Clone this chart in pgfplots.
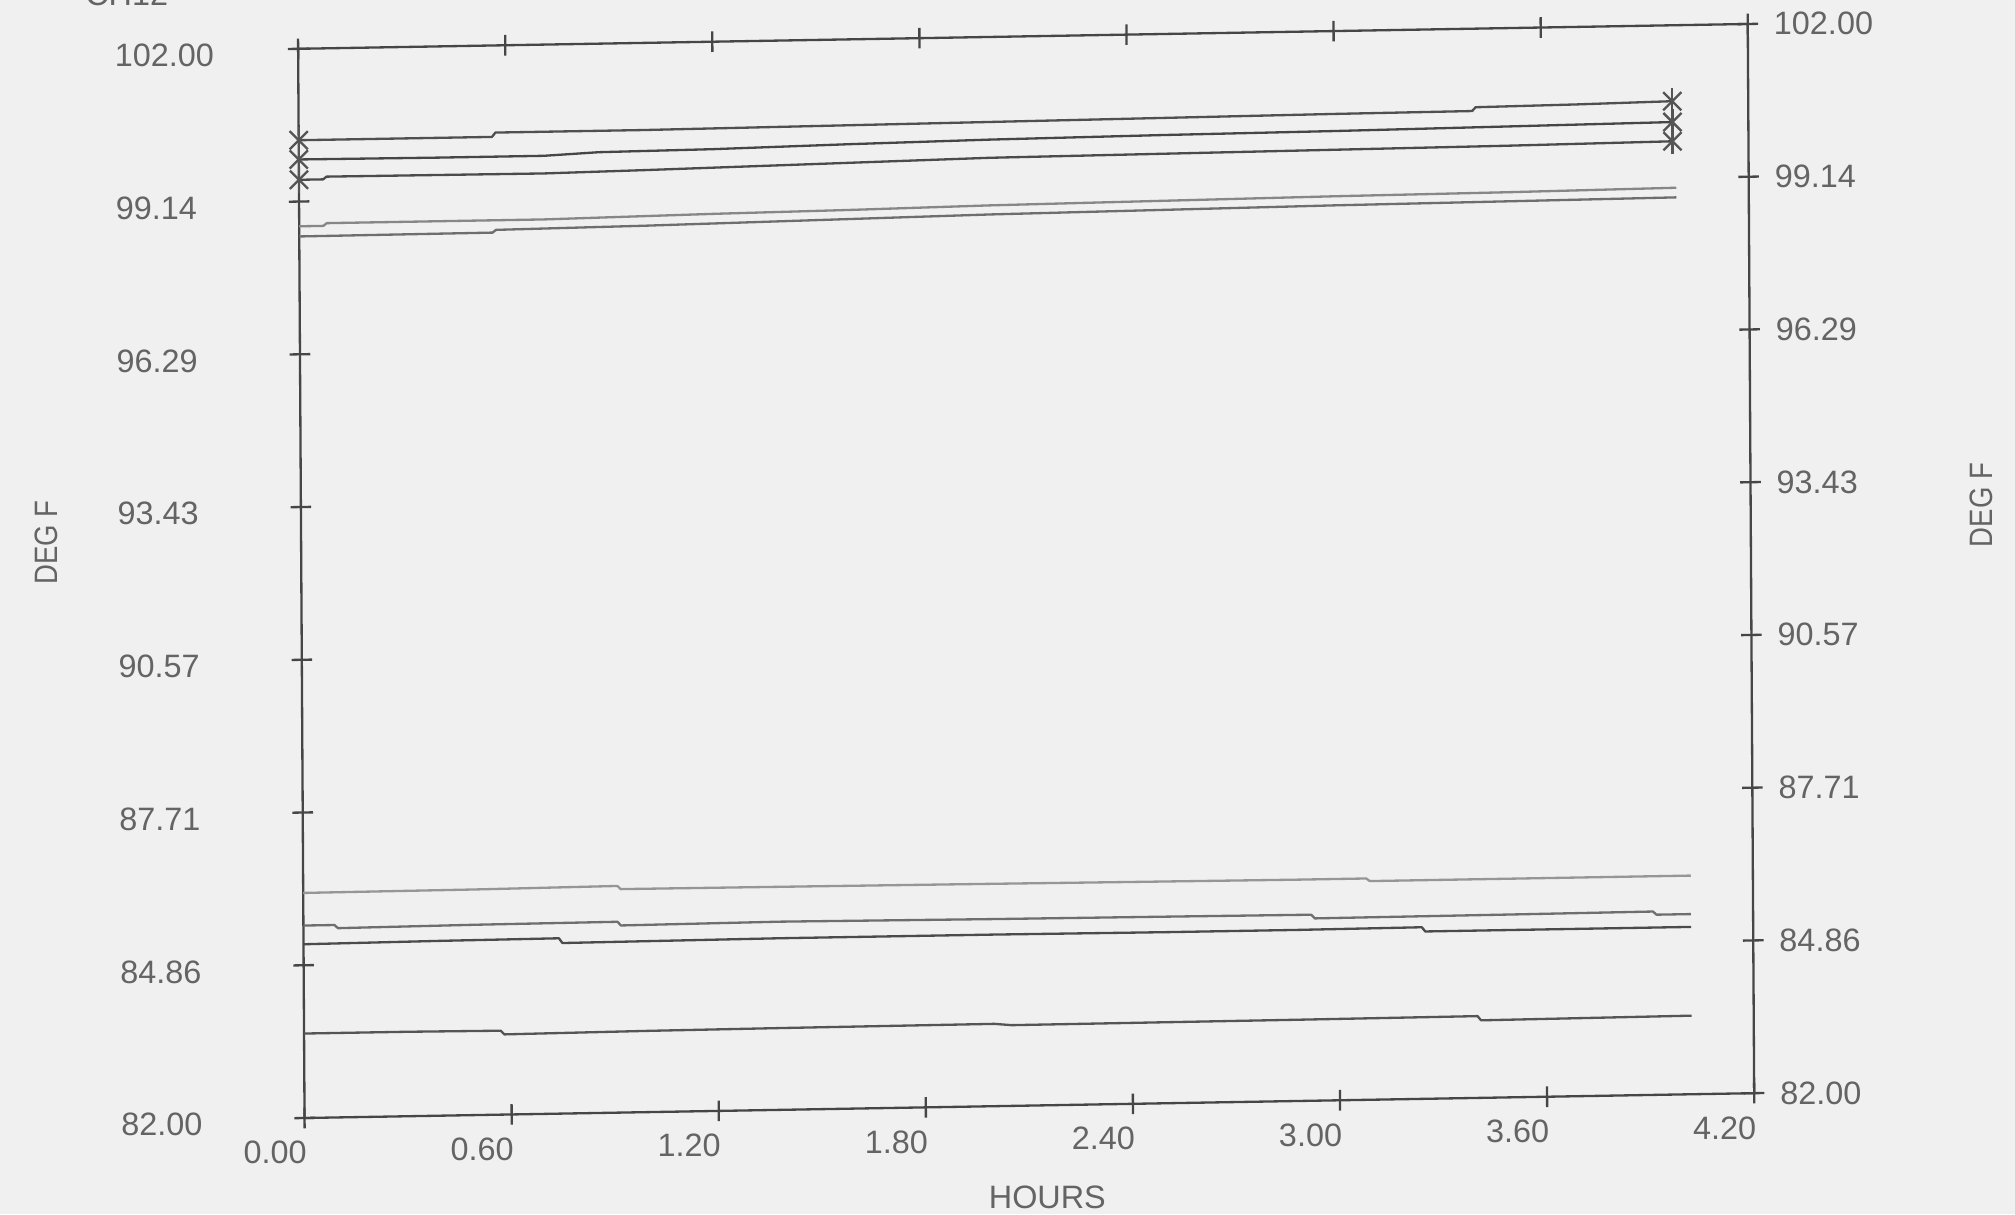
\documentclass[border=0pt]{standalone}
\usepackage{fontspec}
\setmainfont{Liberation Sans}
\usepackage{pgfplots}
\pgfplotsset{compat=1.18}
\usetikzlibrary{calc}
\pgfdeclarelayer{background}
\pgfsetlayers{background,main}

\definecolor{paper}{RGB}{240,240,240}
\definecolor{axisink}{RGB}{70,70,70}
\definecolor{textink}{RGB}{100,100,100}
\definecolor{markink}{RGB}{85,85,85}
\definecolor{tA}{RGB}{80,80,80}
\definecolor{tB}{RGB}{70,70,70}
\definecolor{tC}{RGB}{75,75,75}
\definecolor{tD}{RGB}{135,135,135}
\definecolor{tE}{RGB}{110,110,110}
\definecolor{bA}{RGB}{150,150,150}
\definecolor{bB}{RGB}{110,110,110}
\definecolor{bC}{RGB}{75,75,75}
\definecolor{bD}{RGB}{85,85,85}

\newcommand\plotfont{\fontsize{12.6pt}{15pt}\selectfont}

% plotter frame: slightly skewed unit vectors, as drawn by the pen plotter
\pgfplotsset{
  plotterframe/.style={
    x={(134.29pt,2.3pt)},
    y={(-0.125pt,20.8pt)},
    xmin=0, xmax=4.2, ymin=82, ymax=102,
    xtick={0,0.6,1.2,1.8,2.4,3.0,3.6,4.2},
    xticklabels={0.00,0.60,1.20,1.80,2.40,3.00,3.60,4.20},
    ytick={82,84.857143,87.714286,90.571429,93.428571,96.285714,99.142857,102},
    yticklabels={82.00,84.86,87.71,90.57,93.43,96.29,99.14,102.00},
    tick align=center,
    major tick length=8pt,
    axis line style={axisink, line width=0.9pt},
    major tick style={axisink, line width=0.9pt},
    tick label style={font=\plotfont, text=textink},
    clip=false,
  },
  trace/.style={line width=0.9pt, line join=round},
  endmark/.style={only marks, markink, mark size=5pt, mark options={line width=0.9pt}},
}

\begin{document}
\begin{tikzpicture}
\begin{axis}[plotterframe,
  tick pos=both,
  xticklabel pos=lower,
  yticklabel pos=left,
  xticklabel style={anchor=center, xshift=-11.5pt, yshift=-9.5pt},
  yticklabel style={anchor=west, inner sep=0pt, xshift=-67.5pt, yshift=-2.5pt},
]
\coordinate (BL) at (axis cs:0,82);

% upper group
\addplot[trace, tA] coordinates {(0,100.29) (0.30,100.29) (0.56,100.29) (0.57,100.37) (1.00,100.37) (1.50,100.39) (2.00,100.41) (2.50,100.43) (3.00,100.45) (3.40,100.46) (3.41,100.53) (3.70,100.55) (3.98,100.58)};
\addplot[trace, tB] coordinates {(0,99.93) (0.40,99.92) (0.71,99.92) (0.87,99.97) (1.20,99.99) (1.60,100.04) (2.00,100.08) (2.50,100.11) (3.00,100.13) (3.50,100.16) (3.98,100.19)};
\addplot[trace, tC] coordinates {(0,99.55) (0.07,99.55) (0.08,99.60) (0.71,99.59) (1.00,99.62) (1.50,99.68) (2.00,99.74) (2.50,99.76) (3.00,99.78) (3.50,99.80) (3.98,99.83)};
\addplot[trace, tD] coordinates {(0,98.68) (0.07,98.68) (0.08,98.73) (0.71,98.73) (1.20,98.78) (1.60,98.81) (2.00,98.85) (2.50,98.88) (3.00,98.91) (3.50,98.93) (3.99,98.96)};
\addplot[trace, tE] coordinates {(0,98.49) (0.56,98.50) (0.57,98.55) (1.00,98.58) (1.50,98.63) (2.00,98.68) (2.50,98.71) (3.00,98.74) (3.50,98.76) (3.99,98.78)};
% end-point symbols: cross plus vertical bar
\addplot[endmark, mark=x] coordinates {(0,100.29) (3.98,100.58) (0,99.93) (3.98,100.19) (0,99.55) (3.98,99.83)};
\addplot[endmark, mark=|] coordinates {(0,100.29) (3.98,100.58) (0,99.93) (3.98,100.19) (0,99.55) (3.98,99.83)};

% lower group
\addplot[trace, bA] coordinates {(0,86.21) (0.50,86.22) (0.91,86.24) (0.92,86.18) (1.50,86.17) (2.00,86.16) (2.40,86.15) (2.88,86.14) (3.08,86.14) (3.09,86.09) (4.02,86.09)};
\addplot[trace, bB] coordinates {(0,85.60) (0.09,85.60) (0.10,85.54) (0.50,85.56) (0.91,85.57) (0.92,85.50) (1.38,85.52) (2.00,85.50) (2.50,85.49) (2.92,85.48) (2.93,85.41) (3.50,85.42) (3.91,85.43) (3.92,85.37) (4.02,85.37)};
\addplot[trace, bC] coordinates {(0,85.25) (0.40,85.27) (0.74,85.28) (0.75,85.19) (1.38,85.21) (2.00,85.21) (2.50,85.20) (2.88,85.20) (3.24,85.21) (3.25,85.13) (4.02,85.13)};
\addplot[trace, bD] coordinates {(0,83.58) (0.30,83.58) (0.57,83.57) (0.58,83.50) (1.00,83.52) (1.38,83.53) (2.00,83.54) (2.05,83.51) (2.88,83.52) (3.40,83.53) (3.41,83.45) (4.02,83.47)};
\end{axis}

% right-hand scale labels
\begin{axis}[plotterframe,
  axis line style={draw=none},
  major tick style={draw=none},
  xtick=\empty,
  ytick pos=right,
  yticklabel pos=right,
  yticklabel style={anchor=west, inner sep=0pt, xshift=6pt},
]
\end{axis}

\pgfresetboundingbox
\path[use as bounding box] ($(BL)+(-118.5pt,-37.5pt)$) rectangle ($(BL)+(665.5pt,435pt)$);
\begin{pgfonlayer}{background}
  \fill[paper] ($(BL)+(-118.5pt,-37.5pt)$) rectangle ($(BL)+(665.5pt,435pt)$);
\end{pgfonlayer}

\begin{scope}[shift={($(BL)+(-118.5pt,435pt)$)}, x=0.5pt, y=-0.5pt]
  \clip (0,0) rectangle (1568,945);
  \node[font=\plotfont, text=textink] at (815,932) {HOURS};
  \node[font=\plotfont, text=textink, rotate=90] at (36,422) {\scalebox{0.85}[1]{DEG F}};
  \node[font=\plotfont, text=textink, rotate=90] at (1542,393) {\scalebox{0.85}[1]{DEG F}};
  \node[font=\plotfont, text=textink, anchor=base west, inner sep=0pt] at (66,4) {CH12};
\end{scope}
\end{tikzpicture}
\end{document}
